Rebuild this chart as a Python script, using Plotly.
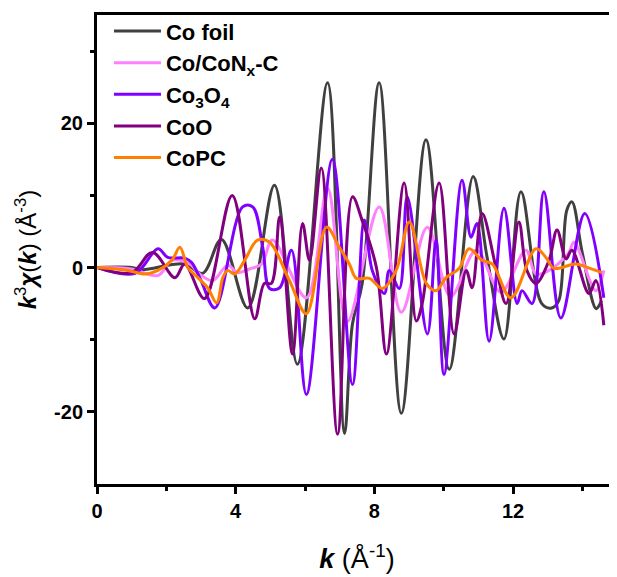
import plotly.graph_objects as go

# ---- data (k in 1/Å, k^3 chi(k) in Å^-3) ----
co_foil_k = [0, 1.0, 1.3, 2.53, 3.05, 3.59, 4.35, 5.12, 5.78, 6.65, 7.14, 7.37, 7.65, 8.14, 8.78,
             9.49, 10.16, 10.85, 11.25, 11.74, 12.23, 12.83, 13.12, 13.32, 13.55, 13.7, 14.0, 14.4, 14.55]
co_foil_v = [0, 0, -0.3, 0.5, -0.8, 3.9, -5.6, 11.4, -13.4, 25.6, -23.0, -7.8, -2.2, 25.6, -20.2,
             17.7, -14.1, 12.6, 1.5, -9.9, 10.5, -5.0, -5.6, -4.6, 7.9, 9.1, 2.0, -5.7, -4.6]

conx_k = [0, 1.0, 1.76, 2.16, 2.67, 2.96, 3.34, 3.77, 4.06, 4.4, 4.75, 5.06, 6.04, 6.65, 7.22,
          8.14, 8.78, 9.53, 10.2, 10.94, 11.65, 12.37, 12.66, 13.04, 13.6, 13.76, 14.39, 14.62]
conx_v = [0, -0.2, -1.1, 1.0, 0.5, -0.9, -1.8, 0.3, -0.7, -0.2, 0.5, 3.8, -4.2, 11.0, -7.5,
          8.4, -6.2, 5.6, -4.0, 2.4, -3.4, 2.4, -0.9, -0.4, 2.0, 3.5, -3.2, -0.4]

co3o4_k = [0, 1.1, 1.76, 2.04, 2.53, 2.73, 3.0, 3.4, 4.2, 4.49, 4.78, 4.98, 5.27, 5.61, 6.04,
           6.79, 7.37, 7.71, 7.94, 8.29, 8.43, 8.72, 8.95, 9.53, 9.78, 10.01, 10.53, 10.79, 10.96,
           11.31, 11.74, 12.12, 12.26, 12.55, 12.89, 13.38, 14.07, 14.62]
co3o4_v = [0, -0.8, 2.6, 1.4, 1.3, 0.7, -1.8, -5.6, 8.4, 8.4, 2.8, -2.9, -2.8, 2.4, -17.6,
           15.0, -16.2, 6.6, -0.4, -3.6, -0.4, -2.9, 9.8, -9.2, 3.8, -14.8, 12.1, 4.2, 6.1,
           -10.2, 8.2, -5.0, -3.2, -5.0, 10.5, -7.0, 7.5, -4.2]

coo_k = [0, 1.0, 1.6, 2.25, 2.53, 3.1, 3.9, 4.55, 4.83, 5.03, 5.27, 5.64, 5.93, 6.13, 6.47,
         6.94, 7.37, 7.65, 8.06, 8.35, 8.86, 9.21, 9.38, 9.87, 10.3, 10.65, 10.82, 11.11, 11.51,
         11.8, 12.17, 12.4, 12.66, 13.04, 13.27, 13.53, 13.7, 14.19, 14.39, 14.62]
coo_v = [0, -0.7, 2.1, -1.4, 0.5, -4.3, 10.0, -7.1, -2.2, -2.2, 7.0, -12.0, 6.1, 1.0, 13.8,
         -23.1, 9.8, 6.5, 0.0, -12.0, 11.7, -7.4, -5.0, 11.7, -9.2, -0.4, -2.8, 7.5, 0.0,
         -5.0, 6.3, -0.4, -2.2, 1.0, 5.2, 1.2, 2.4, -3.6, -1.8, -8.0]

copc_k = [0, 0.89, 1.38, 1.76, 2.16, 2.39, 2.62, 2.91, 3.19, 3.45, 3.63, 3.77, 3.97, 4.26, 4.63,
          4.98, 5.55, 6.04, 6.62, 6.99, 7.28, 7.48, 7.86, 8.23, 8.63, 9.01, 9.5, 9.78, 10.07,
          10.45, 10.73, 11.11, 11.4, 11.94, 12.66, 12.95, 13.18, 13.81, 14.1, 14.56]
copc_v = [0, -0.4, -0.9, -0.4, 1.0, 2.8, 0.0, -1.4, -2.8, -4.9, -1.4, -0.4, -0.9, 1.0, 3.8,
          3.5, -1.8, -6.4, 5.6, 2.8, 0.5, -1.5, -1.5, -2.9, -0.4, 6.3, -2.2, -3.2, -1.4,
          -0.1, 2.6, 1.0, 0.5, -4.2, 2.6, 1.4, -0.1, 0.5, 0.1, -0.7]

series = [
    ("Co foil", co_foil_k, co_foil_v, "#404040"),
    ("Co/CoN<sub>x</sub>-C", conx_k, conx_v, "#FF80FF"),
    ("Co<sub>3</sub>O<sub>4</sub>", co3o4_k, co3o4_v, "#8000FF"),
    ("CoO", coo_k, coo_v, "#800080"),
    ("CoPC", copc_k, copc_v, "#FF8000"),
]

x_ticks = [0, 4, 8, 12]
x_labels = ["0", "4", "8", "12"]
y_ticks = [-20, 0, 20]
y_labels = ["-20", "0", "20"]

fig = go.Figure()
for name, k, v, col in series:
    fig.add_trace(go.Scatter(x=k, y=v, mode="lines", name=name,
                             line=dict(color=col, width=3, shape="spline", smoothing=1.0)))

font_family = "Liberation Sans, Arial, sans-serif"

# the page body adds an 8px offset; size the figure so it fills the 617x577 window
fig.update_layout(
    width=609, height=569,
    margin=dict(l=89, r=0, t=7, b=93),
    paper_bgcolor="white", plot_bgcolor="white",
    showlegend=True,
    legend=dict(x=0.023, y=1.01, xanchor="left", yanchor="top",
                font=dict(family=font_family, size=22, color="black", weight="bold"),
                bgcolor="rgba(0,0,0,0)", itemwidth=47, tracegroupgap=0),
    xaxis=dict(range=[0, 15], tickvals=x_ticks, ticktext=x_labels, ticks="outside",
               ticklen=7, tickwidth=3, automargin=False,
               tickcolor="black", showline=True, linewidth=3, linecolor="black", mirror=True,
               showgrid=False, zeroline=False,
               minor=dict(tickvals=[2, 6, 10, 14], ticks="outside", ticklen=4, tickwidth=3,
                          tickcolor="black"),
               tickfont=dict(family=font_family, size=20, color="black", weight="bold"),
               title=dict(text="<b><i>k</i></b> (Å<sup>-1</sup>)", standoff=29,
                          font=dict(family=font_family, size=27, color="black"))),
    yaxis=dict(range=[-30, 35], tickvals=y_ticks, ticktext=y_labels, ticks="outside",
               ticklen=7, tickwidth=3, automargin=False,
               tickcolor="black", showline=True, linewidth=3, linecolor="black",
               showgrid=False, zeroline=False,
               minor=dict(tickvals=[-10, 10, 30], ticks="outside", ticklen=4, tickwidth=3,
                          tickcolor="black"),
               tickfont=dict(family=font_family, size=20, color="black", weight="bold"),
               title=dict(text="<b><i>k</i></b><sup>3</sup><b><i>χ</i></b>(<b><i>k</i></b>) (Å<sup>-3</sup>)",
                          standoff=11,
                          font=dict(family=font_family, size=24, color="black"))),
)

fig.write_html("out.html")
